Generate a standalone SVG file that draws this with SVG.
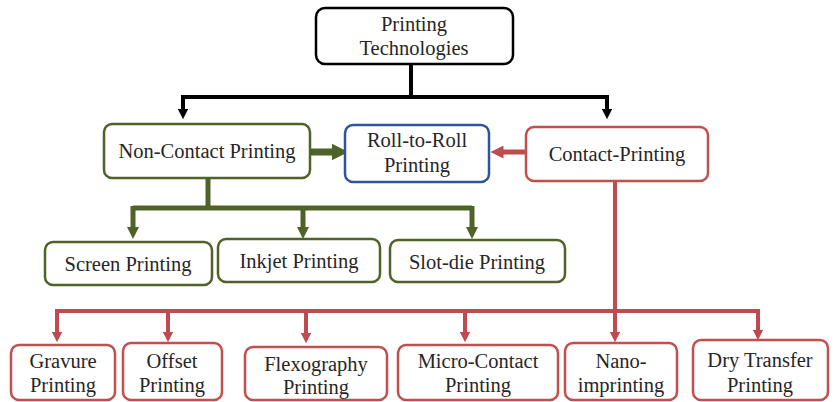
<svg xmlns="http://www.w3.org/2000/svg" width="835" height="402" viewBox="0 0 835 402">
<defs>
<style>
text{font-family:"Liberation Serif","Times New Roman",serif;font-size:20.5px;fill:#262626;text-anchor:middle}
.box{fill:#fff;stroke-width:2.5}
.k{stroke:#000}
.g{stroke:#4f6228}
.b{stroke:#2f5597}
.r{stroke:#c0504d}
.ln{fill:none;stroke-linejoin:miter}
.lk{stroke:#000;stroke-width:4}
.lg{stroke:#4f6228;stroke-width:5}
.lr{stroke:#bf4b51;stroke-width:4}
</style>
<marker id="ak" viewBox="0 0 10 10" refX="5" refY="5" markerWidth="2.6" markerHeight="2.6" orient="auto" markerUnits="strokeWidth"><path d="M0,0L10,5L0,10z" fill="#000"/></marker>
<marker id="ag" viewBox="0 0 10 10" refX="5" refY="5" markerWidth="2.4" markerHeight="2.4" orient="auto" markerUnits="strokeWidth"><path d="M0,0L10,5L0,10z" fill="#4f6228"/></marker>
<marker id="ar" viewBox="0 0 10 10" refX="5" refY="5" markerWidth="2.6" markerHeight="2.6" orient="auto" markerUnits="strokeWidth"><path d="M0,0L10,5L0,10z" fill="#bf4b51"/></marker>
</defs>
<rect width="835" height="402" fill="#fff"/>
<g id="connectors" class="ln">
<path class="lk" d="M411,64V97M183,97H607"/>
<path class="lk" d="M183,95V114" marker-end="url(#ak)"/>
<path class="lk" d="M607,95V114" marker-end="url(#ak)"/>
<path class="lg" d="M208,178V208M133,208H472"/>
<path class="lg" d="M133,206V233" marker-end="url(#ag)"/>
<path class="lg" d="M303,206V233" marker-end="url(#ag)"/>
<path class="lg" d="M472,206V233" marker-end="url(#ag)"/>
<path d="M311,152H340" stroke="#4f6228" stroke-width="7" marker-end="url(#ag)"/>
<path d="M526,152H497" stroke="#bf4b51" stroke-width="5" marker-end="url(#ar)"/>
<path class="lr" d="M57,311H758"/>
<path class="lr" d="M615,181V337" marker-end="url(#ar)"/>
<path class="lr" d="M57,309V337" marker-end="url(#ar)"/>
<path class="lr" d="M168,309V337" marker-end="url(#ar)"/>
<path class="lr" d="M306,309V338" marker-end="url(#ar)"/>
<path class="lr" d="M465,309V337" marker-end="url(#ar)"/>
<path class="lr" d="M758,309V335" marker-end="url(#ar)"/>
</g>
<g id="n-root"><rect class="box k" x="316" y="8" width="197" height="56" rx="9"/><text x="414" y="31">Printing</text><text x="414" y="55">Technologies</text></g>
<g id="n-noncontact"><rect class="box g" x="104" y="124" width="206" height="54" rx="8"/><text x="207" y="158">Non-Contact Printing</text></g>
<g id="n-r2r"><rect class="box b" x="345" y="125" width="144" height="57" rx="8"/><text x="417" y="147">Roll-to-Roll</text><text x="417" y="172">Printing</text></g>
<g id="n-contact"><rect class="box r" x="526" y="127" width="182" height="54" rx="8"/><text x="617" y="161">Contact-Printing</text></g>
<g id="n-screen"><rect class="box g" x="45" y="242" width="167" height="43" rx="8"/><text x="128" y="271">Screen Printing</text></g>
<g id="n-inkjet"><rect class="box g" x="218" y="239" width="162" height="43" rx="8"/><text x="299" y="268">Inkjet Printing</text></g>
<g id="n-slotdie"><rect class="box g" x="390" y="240" width="175" height="42" rx="8"/><text x="477" y="269">Slot-die Printing</text></g>
<g id="n-gravure"><rect class="box r" x="11" y="345" width="104" height="55" rx="8"/><text x="63" y="368">Gravure</text><text x="63" y="392">Printing</text></g>
<g id="n-offset"><rect class="box r" x="123" y="343" width="99" height="57" rx="8"/><text x="172" y="368">Offset</text><text x="172" y="392">Printing</text></g>
<g id="n-flexo"><rect class="box r" x="245" y="347" width="142" height="53" rx="8"/><text x="316" y="371">Flexography</text><text x="316" y="394">Printing</text></g>
<g id="n-micro"><rect class="box r" x="398" y="345" width="160" height="55" rx="8"/><text x="478" y="368">Micro-Contact</text><text x="478" y="392">Printing</text></g>
<g id="n-nano"><rect class="box r" x="565" y="343" width="112" height="57" rx="8"/><text x="621" y="368">Nano-</text><text x="621" y="392">imprinting</text></g>
<g id="n-dry"><rect class="box r" x="693" y="340" width="135" height="60" rx="8"/><text x="760" y="367">Dry Transfer</text><text x="760" y="392">Printing</text></g>
</svg>
